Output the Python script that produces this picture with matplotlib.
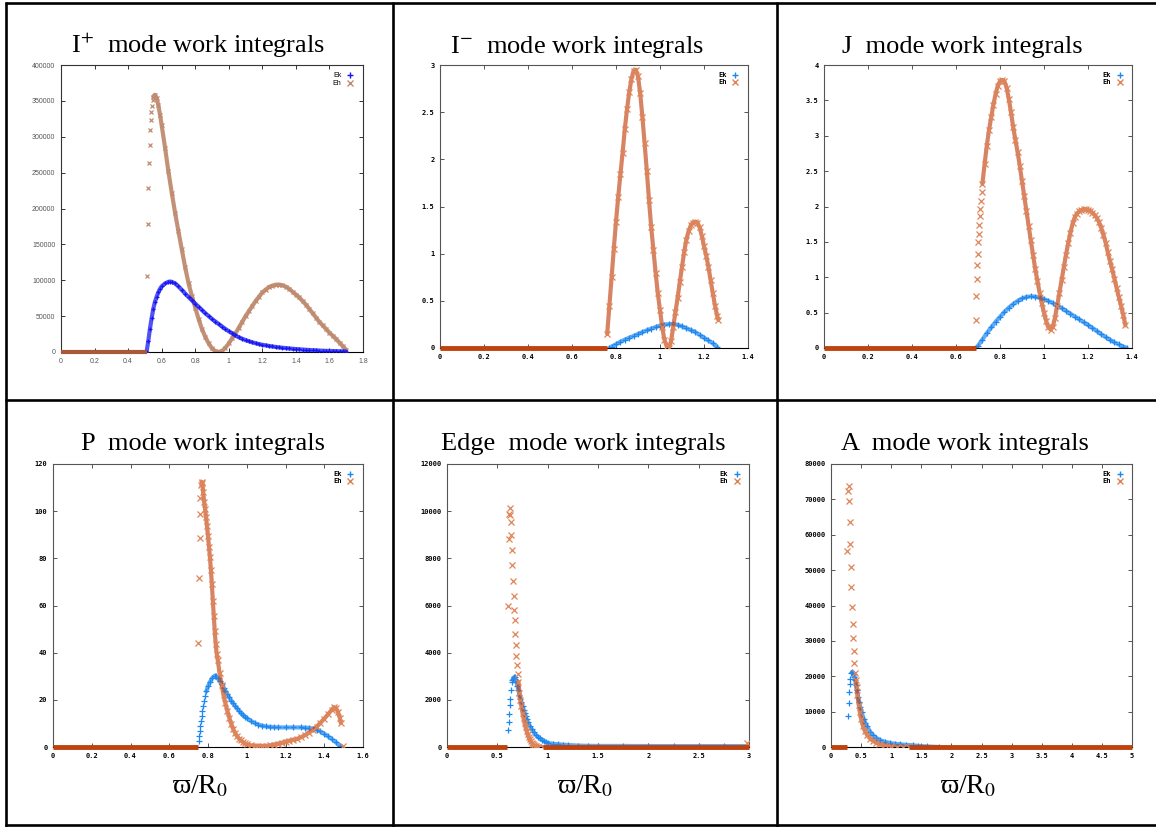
import numpy as np
import matplotlib
matplotlib.use("Agg")
import matplotlib.pyplot as plt
from matplotlib.lines import Line2D
from matplotlib.ticker import FuncFormatter, MultipleLocator

plt.rcParams['mathtext.fontset'] = 'stix'


def pairs(seq):
    a = np.array(seq, dtype=float)
    return a[:, 0], a[:, 1]


# ---------------- I+ mode ----------------
ip_eh_jump_x, ip_eh_jump = pairs([
    (0.515, 106000), (0.517, 179000), (0.521, 228000), (0.525, 264000),
    (0.529, 289000), (0.533, 309000), (0.535, 324000), (0.537, 335000),
    (0.541, 343000), (0.546, 351000)])
ip_eh_x, ip_eh = pairs([
    (0.55, 356000), (0.56, 358500), (0.57, 354000), (0.58, 344000), (0.59, 331000),
    (0.60, 316000), (0.62, 285000), (0.64, 252000), (0.66, 222000), (0.68, 194000),
    (0.70, 168000), (0.72, 143000), (0.74, 118000), (0.76, 96000), (0.78, 78000),
    (0.80, 62000), (0.82, 46000), (0.84, 32000), (0.86, 21000), (0.88, 12000),
    (0.90, 5000), (0.92, 1200), (0.94, 0), (0.96, 1500), (0.98, 6000),
    (1.00, 12000), (1.02, 19000), (1.04, 26000), (1.06, 34000), (1.08, 42000),
    (1.10, 50000), (1.12, 57000), (1.14, 64000), (1.16, 71000), (1.18, 77000),
    (1.20, 83000), (1.22, 87000), (1.24, 90500), (1.26, 92500), (1.28, 93800),
    (1.30, 94000), (1.32, 93000), (1.34, 91000), (1.36, 88000), (1.38, 84000),
    (1.40, 80000), (1.42, 76000), (1.44, 71000), (1.46, 66000), (1.48, 60000),
    (1.50, 54000), (1.52, 48000), (1.54, 42000), (1.56, 37000), (1.58, 32000),
    (1.60, 27000), (1.62, 22500), (1.64, 18000), (1.66, 13000), (1.68, 8000),
    (1.70, 3000)])
ip_ek_x, ip_ek = pairs([
    (0.51, 0), (0.52, 15000), (0.53, 32000), (0.54, 47000), (0.55, 60000),
    (0.56, 70000), (0.57, 77000), (0.58, 83000), (0.59, 88000), (0.60, 91500),
    (0.62, 95500), (0.64, 97800), (0.65, 98200), (0.66, 97800), (0.68, 95500),
    (0.70, 91500), (0.72, 86500), (0.74, 81500), (0.76, 76500), (0.78, 72000),
    (0.80, 67500), (0.82, 63000), (0.84, 58500), (0.86, 54000), (0.88, 50000),
    (0.90, 46000), (0.92, 42500), (0.94, 39000), (0.96, 35500), (0.98, 32000),
    (1.00, 29000), (1.02, 26000), (1.04, 23000), (1.06, 20500), (1.08, 18500),
    (1.10, 16500), (1.12, 15000), (1.14, 13500), (1.16, 12200), (1.18, 11000),
    (1.20, 10000), (1.22, 9200), (1.24, 8400), (1.26, 7700), (1.28, 7000),
    (1.30, 6400), (1.32, 5900), (1.34, 5400), (1.36, 4900), (1.38, 4500),
    (1.40, 4100), (1.42, 3700), (1.44, 3400), (1.46, 3100), (1.48, 2800),
    (1.50, 2500), (1.52, 2300), (1.54, 2000), (1.56, 1800), (1.58, 1600),
    (1.60, 1450), (1.62, 1300), (1.64, 1150), (1.66, 1000), (1.68, 800),
    (1.70, 600)])
ip_zero_spans = [(0.0, 0.51)]

# ---------------- I- mode ----------------
im_eh_x, im_eh = pairs([
    (0.76, 0.15), (0.77, 0.45), (0.78, 0.75), (0.79, 1.05), (0.80, 1.34),
    (0.81, 1.60), (0.82, 1.84), (0.83, 2.07), (0.84, 2.32), (0.85, 2.53),
    (0.86, 2.71), (0.87, 2.85), (0.88, 2.94), (0.89, 2.95), (0.90, 2.88),
    (0.91, 2.70), (0.92, 2.45), (0.93, 2.17), (0.94, 1.88), (0.95, 1.57),
    (0.96, 1.28), (0.97, 1.04), (0.98, 0.80), (0.99, 0.58), (1.00, 0.40),
    (1.01, 0.22), (1.02, 0.09), (1.03, 0.02), (1.04, 0.0), (1.05, 0.07),
    (1.06, 0.22), (1.07, 0.38), (1.08, 0.53), (1.09, 0.70), (1.10, 0.86),
    (1.11, 1.02), (1.12, 1.15), (1.13, 1.24), (1.14, 1.30), (1.15, 1.33),
    (1.16, 1.34), (1.17, 1.33), (1.18, 1.28), (1.19, 1.19), (1.20, 1.08),
    (1.21, 0.98), (1.22, 0.86), (1.23, 0.72), (1.24, 0.58), (1.25, 0.45),
    (1.26, 0.34), (1.265, 0.30)])
im_ek_x, im_ek = pairs([
    (0.77, 0.0), (0.78, 0.015), (0.80, 0.04), (0.82, 0.065), (0.84, 0.088),
    (0.86, 0.108), (0.88, 0.128), (0.90, 0.148), (0.92, 0.168), (0.94, 0.187),
    (0.96, 0.205), (0.98, 0.222), (1.00, 0.237), (1.02, 0.247), (1.04, 0.253),
    (1.06, 0.254), (1.08, 0.245), (1.10, 0.23), (1.12, 0.21), (1.14, 0.19),
    (1.16, 0.17), (1.18, 0.14), (1.20, 0.11), (1.22, 0.08), (1.24, 0.05),
    (1.26, 0.01)])
im_zero_spans = [(0.0, 0.76)]

# ---------------- J mode ----------------
j_eh_jump_x, j_eh_jump = pairs([
    (0.689, 0.40), (0.691, 0.73), (0.694, 0.97), (0.697, 1.17), (0.700, 1.33),
    (0.702, 1.50), (0.705, 1.61), (0.706, 1.74), (0.709, 1.86), (0.711, 1.97),
    (0.714, 2.08), (0.717, 2.20)])
j_eh_x, j_eh = pairs([
    (0.720, 2.32), (0.73, 2.60), (0.74, 2.86), (0.75, 3.08), (0.76, 3.26),
    (0.77, 3.44), (0.78, 3.59), (0.79, 3.71), (0.80, 3.77), (0.81, 3.79),
    (0.82, 3.77), (0.83, 3.68), (0.84, 3.52), (0.85, 3.33), (0.86, 3.12),
    (0.87, 2.94), (0.88, 2.77), (0.89, 2.57), (0.90, 2.36), (0.91, 2.15),
    (0.92, 1.94), (0.93, 1.73), (0.94, 1.52), (0.95, 1.32), (0.96, 1.12),
    (0.97, 0.95), (0.98, 0.78), (0.99, 0.63), (1.00, 0.50), (1.01, 0.38),
    (1.02, 0.29), (1.03, 0.26), (1.04, 0.30), (1.05, 0.43), (1.06, 0.60),
    (1.07, 0.78), (1.08, 0.96), (1.09, 1.14), (1.10, 1.32), (1.11, 1.48),
    (1.12, 1.63), (1.13, 1.76), (1.14, 1.85), (1.15, 1.90), (1.16, 1.93),
    (1.17, 1.95), (1.18, 1.96), (1.19, 1.96), (1.20, 1.95), (1.21, 1.94),
    (1.22, 1.91), (1.23, 1.88), (1.24, 1.84), (1.25, 1.78), (1.26, 1.70),
    (1.27, 1.60), (1.28, 1.49), (1.29, 1.35), (1.30, 1.23), (1.31, 1.11),
    (1.32, 0.98), (1.33, 0.85), (1.34, 0.72), (1.35, 0.60), (1.36, 0.47),
    (1.37, 0.32)])
j_ek_x, j_ek = pairs([
    (0.69, 0.0), (0.70, 0.03), (0.72, 0.12), (0.74, 0.21), (0.76, 0.29),
    (0.78, 0.37), (0.80, 0.44), (0.82, 0.51), (0.84, 0.57), (0.86, 0.62),
    (0.88, 0.665), (0.90, 0.70), (0.92, 0.72), (0.94, 0.73), (0.96, 0.725),
    (0.98, 0.71), (1.00, 0.69), (1.02, 0.665), (1.04, 0.635), (1.06, 0.60),
    (1.08, 0.565), (1.10, 0.525), (1.12, 0.485), (1.14, 0.445), (1.16, 0.405),
    (1.18, 0.365), (1.20, 0.325), (1.22, 0.285), (1.24, 0.24), (1.26, 0.195),
    (1.28, 0.155), (1.30, 0.115), (1.32, 0.08), (1.34, 0.05), (1.36, 0.02),
    (1.375, 0.005)])
j_zero_spans = [(0.0, 0.689)]

# ---------------- P mode ----------------
p_eh_jump_x, p_eh_jump = pairs([
    (0.750, 44.3), (0.752, 71.6), (0.757, 88.5), (0.759, 98.8), (0.760, 105.7),
    (0.764, 111.0), (1.497, 0.3)])
p_eh_x, p_eh = pairs([
    (0.767, 112.5), (0.771, 112.0), (0.775, 108.0), (0.78, 104.0), (0.785, 101.0),
    (0.79, 97.5), (0.795, 93.5), (0.80, 89.5), (0.805, 85.0), (0.81, 80.5),
    (0.815, 75.0), (0.82, 69.0), (0.825, 62.0), (0.83, 55.5), (0.835, 49.0),
    (0.84, 43.5), (0.845, 39.5), (0.85, 37.0), (0.86, 31.3), (0.87, 26.5),
    (0.88, 22.0), (0.89, 18.5), (0.90, 15.3), (0.91, 12.4), (0.92, 9.8),
    (0.93, 7.6), (0.94, 5.9), (0.95, 4.6), (0.96, 3.6), (0.97, 2.8),
    (0.98, 2.1), (0.99, 1.5), (1.00, 1.1), (1.02, 0.7), (1.04, 0.5),
    (1.06, 0.4), (1.08, 0.4), (1.10, 0.5), (1.12, 0.7), (1.14, 1.0),
    (1.16, 1.4), (1.18, 1.8), (1.20, 2.3), (1.22, 2.7), (1.24, 3.1),
    (1.26, 3.5), (1.28, 4.1), (1.30, 5.0), (1.32, 6.1), (1.34, 7.2),
    (1.36, 8.6), (1.38, 10.2), (1.40, 12.0), (1.42, 13.9), (1.44, 15.9),
    (1.45, 16.8), (1.46, 16.6), (1.47, 15.0), (1.48, 12.5), (1.485, 10.2)])
p_ek_jump_x, p_ek_jump = pairs([
    (0.752, 2.4), (0.754, 4.5), (0.757, 6.6), (0.760, 8.8), (0.764, 10.9),
    (0.767, 13.0), (0.771, 15.1), (0.774, 17.2), (0.779, 19.3), (0.785, 21.5)])
p_ek_x, p_ek = pairs([
    (0.791, 23.6), (0.80, 25.7), (0.809, 27.4), (0.821, 29.2), (0.834, 30.2),
    (0.84, 30.1), (0.85, 29.2), (0.86, 27.9), (0.87, 26.6), (0.88, 25.2),
    (0.89, 23.8), (0.90, 22.4), (0.91, 21.0), (0.92, 19.7), (0.93, 18.5),
    (0.94, 17.4), (0.95, 16.4), (0.96, 15.4), (0.97, 14.5), (0.98, 13.6),
    (0.99, 12.9), (1.00, 12.2), (1.02, 11.1), (1.04, 10.2), (1.06, 9.5),
    (1.08, 9.0), (1.10, 8.7), (1.12, 8.5), (1.14, 8.4), (1.16, 8.3),
    (1.20, 8.3), (1.24, 8.3), (1.28, 8.3), (1.30, 8.2), (1.32, 8.1),
    (1.34, 7.8), (1.36, 7.4), (1.38, 6.6), (1.40, 5.6), (1.42, 4.5),
    (1.44, 3.3), (1.46, 2.0), (1.48, 0.6), (1.49, 0.0)])
p_zero_spans = [(0.0, 0.75)]

# ---------------- Edge mode ----------------
e_eh_jump_x, e_eh_jump = pairs([
    (0.605, 6000), (0.611, 8840), (0.618, 9900), (0.621, 10120), (0.624, 9830),
    (0.631, 9520), (0.638, 8990), (0.644, 8350), (0.648, 7700), (0.654, 7050),
    (0.664, 6410), (0.667, 5830), (0.677, 5380), (0.679, 4780), (0.684, 4320),
    (0.690, 3860), (0.694, 3480), (0.704, 3110), (2.98, 150)])
e_eh_x, e_eh = pairs([
    (0.710, 2760), (0.72, 2300), (0.73, 2000), (0.74, 1720), (0.75, 1450),
    (0.76, 1220), (0.77, 1010), (0.78, 830), (0.79, 680), (0.80, 540),
    (0.81, 420), (0.82, 320), (0.83, 240), (0.84, 175), (0.85, 125),
    (0.86, 85), (0.87, 55), (0.88, 35), (0.90, 12), (0.95, 0)])
e_ek_jump_x, e_ek_jump = pairs([
    (0.605, 740), (0.611, 1060), (0.618, 1410), (0.624, 1770), (0.628, 2050),
    (0.634, 2400), (0.641, 2760), (0.648, 2830)])
e_ek_x, e_ek = pairs([
    (0.655, 2900), (0.663, 2950), (0.671, 2970), (0.68, 2900), (0.69, 2760),
    (0.70, 2580), (0.71, 2400), (0.72, 2220), (0.73, 2050), (0.74, 1890),
    (0.75, 1740), (0.76, 1590), (0.77, 1440), (0.78, 1300), (0.79, 1180),
    (0.80, 1080), (0.82, 900), (0.84, 760), (0.86, 640), (0.88, 520),
    (0.90, 440), (0.92, 370), (0.94, 310), (0.96, 260), (0.98, 210),
    (1.00, 170), (1.05, 140), (1.10, 115), (1.15, 100), (1.20, 85),
    (1.30, 60), (1.40, 50), (1.50, 45), (1.75, 45), (2.00, 40),
    (2.25, 40), (2.50, 40), (2.75, 40), (3.00, 40)])
e_zero_spans = [(0.0, 0.60), (0.95, 3.0)]

# ---------------- A mode ----------------
a_eh_jump_x, a_eh_jump = pairs([
    (0.265, 55500), (0.282, 72500), (0.293, 73800), (0.298, 69600), (0.309, 63700),
    (0.320, 57300), (0.326, 50800), (0.337, 45100), (0.348, 39600), (0.365, 34900),
    (0.370, 30700), (0.381, 27100), (0.387, 23800), (0.403, 20900)])
a_eh_x, a_eh = pairs([
    (0.414, 18900), (0.425, 17000), (0.44, 14600), (0.46, 12000), (0.48, 9800),
    (0.50, 8000), (0.53, 6000), (0.56, 4600), (0.60, 3400), (0.65, 2400),
    (0.70, 1700), (0.75, 1200), (0.80, 850), (0.90, 450), (1.00, 220),
    (1.10, 100), (1.20, 40), (1.30, 0)])
a_ek_jump_x, a_ek_jump = pairs([
    (0.282, 8800), (0.293, 12300), (0.304, 15600), (0.309, 17700), (0.320, 19300),
    (0.331, 20900)])
a_ek_x, a_ek = pairs([
    (0.348, 21200), (0.362, 21000), (0.376, 20700), (0.39, 19900), (0.403, 18900),
    (0.417, 17500), (0.431, 16000), (0.45, 14200), (0.47, 12600), (0.486, 11300),
    (0.51, 9800), (0.541, 8000), (0.57, 6800), (0.60, 5800), (0.652, 4250),
    (0.70, 3300), (0.75, 2600), (0.818, 1900), (0.90, 1450), (0.983, 1130),
    (1.07, 900), (1.15, 750), (1.25, 600), (1.37, 470), (1.45, 300),
    (1.60, 150), (1.80, 0)])
a_zero_spans = [(0.0, 0.26), (1.3, 5.0)]

# ---------------- figure ----------------
W, H = 1156, 827
fig = plt.figure(figsize=(W / 100, H / 100), dpi=100)


def px_axes(left, top, right, bottom):
    return fig.add_axes([left / W, 1 - bottom / H, (right - left) / W, (bottom - top) / H])


def fmt(v, _):
    return '%g' % v


MONO = {'family': 'DejaVu Sans Mono', 'weight': 'bold', 'size': 5}
NARROW = {'family': ['Liberation Sans Narrow', 'Liberation Sans'], 'size': 5}


def style_axes(ax, xmax, xstep, ymax, ystep, font, tick_color, frame_color):
    ax.set_xlim(0, xmax)
    ax.set_ylim(0, ymax)
    ax.xaxis.set_major_locator(MultipleLocator(xstep))
    ax.yaxis.set_major_locator(MultipleLocator(ystep))
    ax.xaxis.set_major_formatter(FuncFormatter(fmt))
    ax.yaxis.set_major_formatter(FuncFormatter(fmt))
    ax.tick_params(direction='in', top=True, right=True, length=3, width=0.7,
                   color=frame_color, pad=4, labelcolor=tick_color)
    for lab in ax.get_xticklabels() + ax.get_yticklabels():
        lab.set_fontproperties(font)
    for s in ax.spines.values():
        s.set_color(frame_color)
        s.set_linewidth(0.8)
    ax.spines['bottom'].set_color('black')


def draw(ax, band, jump, color, band_color, marker, ms, z):
    if band is not None:
        x, y = band
        ax.plot(x, y, color=band_color, lw=3.0, alpha=0.7, zorder=z, solid_capstyle='round')
        ax.plot(x, y, ls='none', marker=marker, ms=ms, mew=0.9, color=color, zorder=z + 0.1)
    if jump is not None:
        x, y = jump
        ax.plot(x, y, ls='none', marker=marker, ms=ms, mew=0.9, color=color, zorder=z + 0.1)


def zero_band(ax, spans, color, lw):
    for a, b in spans:
        ax.plot([a, b], [0, 0], color=color, lw=lw, solid_capstyle='butt', zorder=4, clip_on=False)


def legend(ax, ek_color, eh_color, font):
    h_ek = Line2D([], [], ls='none', marker='+', color=ek_color, ms=4, mew=1)
    h_eh = Line2D([], [], ls='none', marker='x', color=eh_color, ms=4, mew=1)
    ax.legend([h_ek, h_eh], ['Ek', 'Eh'], loc='upper right', markerfirst=False,
              frameon=False, prop=font, handlelength=1.6, handletextpad=0.5,
              labelspacing=0.15, borderaxespad=0.6)


EK_BLUE = '#1e88f0'
EH_LIGHT = '#e08458'
EH_BAND = '#c65022'
ZERO = '#c0420e'

# I+ panel
ax1 = px_axes(61, 65, 363, 352)
draw(ax1, (ip_eh_x, ip_eh), (ip_eh_jump_x, ip_eh_jump), '#c08a70', '#a9643f', 'x', 3.5, 2)
draw(ax1, (ip_ek_x, ip_ek), None, '#1515f5', '#0a0af0', '+', 3.5, 3)
zero_band(ax1, ip_zero_spans, '#a85a38', 3)
style_axes(ax1, 1.8, 0.2, 400000, 50000, NARROW, '#555555', '#333333')
legend(ax1, '#1515f5', '#c08a70', NARROW)

# I- panel
ax2 = px_axes(440, 65, 748, 348)
draw(ax2, (im_ek_x, im_ek), None, EK_BLUE, EK_BLUE, '+', 4, 2)
draw(ax2, (im_eh_x, im_eh), None, EH_LIGHT, EH_BAND, 'x', 4, 3)
zero_band(ax2, im_zero_spans, ZERO, 3.5)
style_axes(ax2, 1.4, 0.2, 3, 0.5, MONO, 'black', '#555555')
legend(ax2, EK_BLUE, EH_LIGHT, MONO)

# J panel
ax3 = px_axes(824, 65, 1132, 348)
draw(ax3, (j_ek_x, j_ek), None, EK_BLUE, EK_BLUE, '+', 4, 2)
draw(ax3, (j_eh_x, j_eh), (j_eh_jump_x, j_eh_jump), EH_LIGHT, EH_BAND, 'x', 4, 3)
zero_band(ax3, j_zero_spans, ZERO, 3.5)
style_axes(ax3, 1.4, 0.2, 4, 0.5, MONO, 'black', '#555555')
legend(ax3, EK_BLUE, EH_LIGHT, MONO)

# P panel
ax4 = px_axes(53, 464, 363, 747)
draw(ax4, (p_ek_x, p_ek), (p_ek_jump_x, p_ek_jump), EK_BLUE, EK_BLUE, '+', 4, 2)
draw(ax4, (p_eh_x, p_eh), (p_eh_jump_x, p_eh_jump), EH_LIGHT, EH_BAND, 'x', 4, 3)
zero_band(ax4, p_zero_spans, ZERO, 3.5)
style_axes(ax4, 1.6, 0.2, 120, 20, MONO, 'black', '#555555')
legend(ax4, EK_BLUE, EH_LIGHT, MONO)

# Edge panel
ax5 = px_axes(447, 464, 749, 747)
draw(ax5, (e_ek_x, e_ek), (e_ek_jump_x, e_ek_jump), EK_BLUE, EK_BLUE, '+', 4, 2)
draw(ax5, (e_eh_x, e_eh), (e_eh_jump_x, e_eh_jump), EH_LIGHT, EH_BAND, 'x', 4, 3)
zero_band(ax5, e_zero_spans, ZERO, 3.5)
style_axes(ax5, 3, 0.5, 12000, 2000, MONO, 'black', '#555555')
legend(ax5, EK_BLUE, EH_LIGHT, MONO)

# A panel
ax6 = px_axes(831, 464, 1132, 747)
draw(ax6, (a_ek_x, a_ek), (a_ek_jump_x, a_ek_jump), EK_BLUE, EK_BLUE, '+', 4, 2)
draw(ax6, (a_eh_x, a_eh), (a_eh_jump_x, a_eh_jump), EH_LIGHT, EH_BAND, 'x', 4, 3)
zero_band(ax6, a_zero_spans, ZERO, 3.5)
style_axes(ax6, 5, 0.5, 80000, 10000, MONO, 'black', '#555555')
legend(ax6, EK_BLUE, EH_LIGHT, MONO)

# panel titles and axis labels
SERIF = ['Liberation Serif', 'DejaVu Serif']
titles = [
    (198, 53, r'I$^{+}$  mode work integrals'),
    (577, 53, r'I$^{-}$  mode work integrals'),
    (962, 53, 'J  mode work integrals'),
    (203, 450, 'P  mode work integrals'),
    (583, 450, 'Edge  mode work integrals'),
    (965, 450, 'A  mode work integrals'),
]
for cx, by, txt in titles:
    fig.text(cx / W, 1 - by / H, txt, ha='center', va='baseline', fontsize=19,
             family=SERIF)
for cx in (200, 585, 968):
    fig.text(cx / W, 1 - 793 / H, '\u03d6/R$_{0}$', ha='center', va='baseline',
             fontsize=20, family=SERIF)

# table frame around the panels
def hline(y, x0, x1, lw=1.9):
    fig.add_artist(Line2D([x0 / W, x1 / W], [1 - y / H, 1 - y / H], color='black',
                          lw=lw, transform=fig.transFigure, solid_capstyle='butt'))


def vline(x, y0, y1, lw=1.9):
    fig.add_artist(Line2D([x / W, x / W], [1 - y0 / H, 1 - y1 / H], color='black',
                          lw=lw, transform=fig.transFigure, solid_capstyle='butt'))


hline(3, 5, 1156)
hline(400, 5, 1156)
hline(825, 5, 1156)
vline(6, 2, 827)
vline(393, 2, 827)
vline(777, 2, 827)

fig.savefig('out.png', dpi=100, facecolor='white')
